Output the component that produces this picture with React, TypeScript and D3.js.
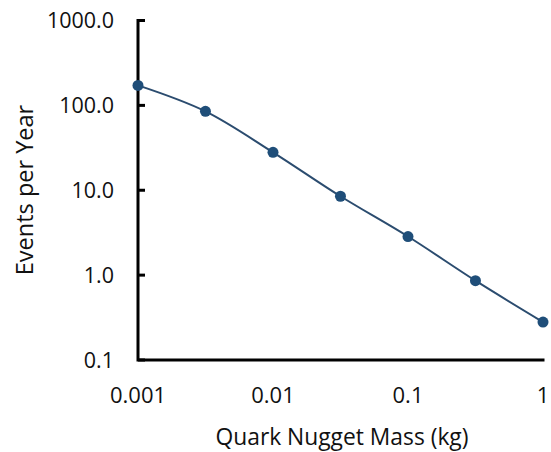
import React from "react";
import * as d3 from "d3";

const masses = [0.001, 0.00316, 0.01, 0.0316, 0.1, 0.316, 1];
const events = [172, 85, 28, 8.5, 2.85, 0.86, 0.28];
const xTicks = [0.001, 0.01, 0.1, 1];
const xTickLabels = ["0.001", "0.01", "0.1", "1"];
const yTicks = [0.1, 1, 10, 100, 1000];
const yTickLabels = ["0.1", "1.0", "10.0", "100.0", "1000.0"];

const W = 551, H = 452;
const left = 138, right = 543, top = 20.5, bottom = 360;
const font = "'Open Sans', sans-serif";

export default function App() {
  const x = d3.scaleLog().domain([0.001, 1]).range([left, right]);
  const y = d3.scaleLog().domain([0.1, 1000]).range([bottom, top]);
  const pts: [number, number][] = masses.map((m, i) => [x(m), y(events[i])]);
  const line = d3.line().curve(d3.curveCatmullRom.alpha(0.5))(pts) || "";
  return (
    <svg width={W} height={H} style={{ position: "absolute", left: 0, top: 0, background: "#fff" }}>
      <g fill="none" stroke="#000" strokeWidth={3}>
        <path d={`M${left},${top}V${bottom}H${right}`} strokeLinecap="square" />
        {yTicks.map((t) => (
          <line key={t} x1={left} x2={left + 7} y1={y(t)} y2={y(t)} />
        ))}
      </g>
      {yTicks.map((t, i) => (
        <text key={t} x={left - 24} y={y(t)} dy="0.36em" textAnchor="end" fontFamily={font} fontSize={21.5} fill="#111">
          {yTickLabels[i]}
        </text>
      ))}
      {xTicks.map((t, i) => (
        <text key={t} x={x(t)} y={403} textAnchor="middle" fontFamily={font} fontSize={22} fill="#111">
          {xTickLabels[i]}
        </text>
      ))}
      <text x={342} y={445} textAnchor="middle" fontFamily={font} fontSize={22.8} fill="#111">
        Quark Nugget Mass (kg)
      </text>
      <text transform="translate(33,190) rotate(-90)" textAnchor="middle" fontFamily={font} fontSize={23.5} fill="#111">
        Events per Year
      </text>
      <path d={line} fill="none" stroke="#2b4c6f" strokeWidth={2} />
      {pts.map((p, i) => (
        <circle key={i} cx={p[0]} cy={p[1]} r={5.5} fill="#1f4e79" />
      ))}
    </svg>
  );
}
